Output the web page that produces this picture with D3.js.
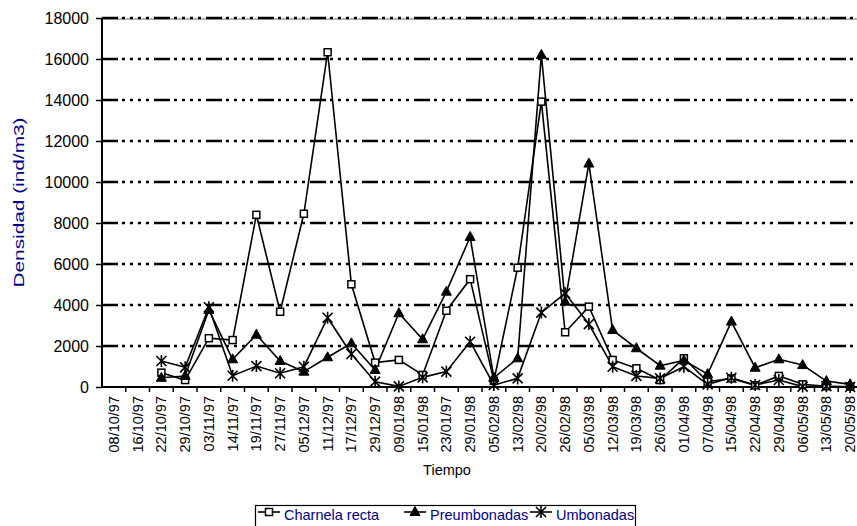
<!DOCTYPE html>
<html lang="en">
<head>
<meta charset="utf-8">
<title>Densidad</title>
<script src="https://d3js.org/d3.v7.min.js"></script>
<style>
  body { margin: 0; background: #fff; }
  text { font-family: "Liberation Sans", Arial, Helvetica, sans-serif; }
</style>
</head>
<body>
<script>
// Sampling dates
var fechas = ["08/10/97","16/10/97","22/10/97","29/10/97","03/11/97","14/11/97","19/11/97","27/11/97",
  "05/12/97","11/12/97","17/12/97","29/12/97","09/01/98","15/01/98","23/01/97","29/01/98",
  "05/02/98","13/02/98","20/02/98","26/02/98","05/03/98","12/03/98","19/03/98","26/03/98",
  "01/04/98","07/04/98","15/04/98","22/04/98","29/04/98","06/05/98","13/05/98","20/05/98"];

var charnela = [null,null,700,340,2380,2290,8400,3670,8450,16330,5010,1190,1320,590,3720,5260,
  300,5820,13920,2670,3920,1320,910,340,1400,260,420,80,540,130,40,20];
var preumbonadas = [null,null,450,540,3760,1350,2550,1270,750,1450,2130,830,3600,2330,4650,7320,
  450,1400,16200,4160,10900,2780,1890,1040,1300,630,3190,940,1350,1070,290,130];
var umbonadas = [null,null,1270,960,3890,550,1020,670,990,3380,1610,260,30,470,750,2210,
  100,420,3630,4570,3070,990,540,420,990,130,450,100,340,20,40,0];

var yTicks = [0,2000,4000,6000,8000,10000,12000,14000,16000,18000];

var w = 857, h = 526;
var pLeft = 102, pRight = 862, pTop = 18, pBottom = 387;
var fs = 14.5;

var svg = d3.select("body").append("svg")
  .attr("width", w).attr("height", h);

var x = d3.scaleBand().domain(d3.range(fechas.length)).range([pLeft, pRight]);
var y = d3.scaleLinear().domain([0, 18000]).range([pBottom, pTop]);

//top border of plot area
svg.append("line")
  .attr("x1", pLeft).attr("x2", w).attr("y1", pTop + 1).attr("y2", pTop + 1)
  .attr("stroke", "#999").attr("stroke-width", 1.5);

//gridlines
svg.selectAll("line.grid")
  .data(yTicks.slice(1))
  .enter().append("line")
  .attr("class", "grid")
  .attr("x1", pLeft).attr("x2", pRight)
  .attr("y1", function(d){ return y(d); })
  .attr("y2", function(d){ return y(d); })
  .attr("stroke", "#000")
  .attr("stroke-width", 2.5)
  .attr("stroke-dasharray", "16,4,3,5,3,5,3,5,3,5");

//Y axis
var yAxis = d3.axisLeft(y).tickValues(yTicks).tickSize(6).tickPadding(7)
  .tickFormat(d3.format("d"));
var gy = svg.append("g").attr("transform", "translate(" + pLeft + ",0)").call(yAxis);
gy.select(".domain").attr("stroke-width", 2).attr("d", "M0," + pBottom + "V" + pTop);
gy.selectAll(".tick line").attr("stroke-width", 1.5);
gy.selectAll("text").attr("font-size", 16).attr("fill", "#000")
  .attr("font-family", "'Liberation Sans', Arial, sans-serif");

//X axis - ticks at category boundaries
svg.append("line")
  .attr("x1", pLeft - 1).attr("x2", w).attr("y1", pBottom).attr("y2", pBottom)
  .attr("stroke", "#000").attr("stroke-width", 2);
svg.selectAll("line.xtick")
  .data(d3.range(1, fechas.length))
  .enter().append("line")
  .attr("class", "xtick")
  .attr("x1", function(d){ return x(d); })
  .attr("x2", function(d){ return x(d); })
  .attr("y1", pBottom).attr("y2", pBottom + 5)
  .attr("stroke", "#000").attr("stroke-width", 1.5);

svg.selectAll("text.xlab")
  .data(fechas)
  .enter().append("text")
  .attr("class", "xlab")
  .attr("transform", function(d, i){
    return "translate(" + (x(i) + x.bandwidth() / 2 + 5) + "," + (pBottom + 9) + ") rotate(-90)";
  })
  .attr("text-anchor", "end")
  .attr("font-size", fs)
  .text(function(d){ return d; });

//axis titles
svg.append("text")
  .attr("transform", "translate(24," + ((pTop + pBottom) / 2) + ") rotate(-90)")
  .attr("text-anchor", "middle")
  .attr("font-size", 15.5)
  .attr("textLength", 170)
  .attr("lengthAdjust", "spacingAndGlyphs")
  .attr("fill", "#00008b")
  .text("Densidad (ind/m3)");

svg.append("text")
  .attr("x", 447).attr("y", 475)
  .attr("text-anchor", "middle")
  .attr("font-size", fs)
  .text("Tiempo");

//series
var cx = function(i){ return x(i) + x.bandwidth() / 2; };
var line = d3.line()
  .defined(function(d){ return d != null; })
  .x(function(d, i){ return cx(i); })
  .y(function(d){ return y(d); });

var series = [
  {name: "Charnela recta", values: charnela, mark: "square"},
  {name: "Preumbonadas", values: preumbonadas, mark: "triangle"},
  {name: "Umbonadas", values: umbonadas, mark: "star"}
];

series.forEach(function(s){
  svg.append("path")
    .datum(s.values)
    .attr("d", line)
    .attr("fill", "none")
    .attr("stroke", "#000")
    .attr("stroke-width", 1.6);
});

function drawMark(g, type, px, py){
  if (type === "square") {
    g.append("rect").attr("x", px - 3.5).attr("y", py - 3.5)
      .attr("width", 7).attr("height", 7)
      .attr("fill", "#fff").attr("stroke", "#000").attr("stroke-width", 1.5);
  } else if (type === "triangle") {
    g.append("path")
      .attr("d", "M" + px + "," + (py - 5.5) + "L" + (px + 5) + "," + (py + 3.5) + "L" + (px - 5) + "," + (py + 3.5) + "Z")
      .attr("fill", "#000").attr("stroke", "#000").attr("stroke-width", 1);
  } else {
    var r = 5;
    g.append("path")
      .attr("d", "M" + (px - r) + "," + (py - r) + "L" + (px + r) + "," + (py + r) +
                 "M" + (px + r) + "," + (py - r) + "L" + (px - r) + "," + (py + r) +
                 "M" + px + "," + (py - r - 1) + "L" + px + "," + (py + r + 1))
      .attr("fill", "none").attr("stroke", "#000").attr("stroke-width", 1.6);
  }
}

series.forEach(function(s){
  var g = svg.append("g");
  s.values.forEach(function(v, i){
    if (v != null) drawMark(g, s.mark, cx(i), y(v));
  });
});

//legend
var lg = svg.append("g");
lg.append("rect")
  .attr("x", 255.5).attr("y", 505.5).attr("width", 380).attr("height", 30)
  .attr("fill", "#fff").attr("stroke", "#000").attr("stroke-width", 1.2);
var legX = [258, 404, 530];
series.forEach(function(s, i){
  var lx = legX[i];
  lg.append("line")
    .attr("x1", lx).attr("x2", lx + 22).attr("y1", 512).attr("y2", 512)
    .attr("stroke", "#000").attr("stroke-width", 1.6);
  drawMark(lg, s.mark, lx + 11, 512);
  lg.append("text")
    .attr("x", lx + 26).attr("y", 520)
    .attr("font-size", fs)
    .attr("fill", "#00008b")
    .text(s.name);
});
</script>
</body>
</html>
